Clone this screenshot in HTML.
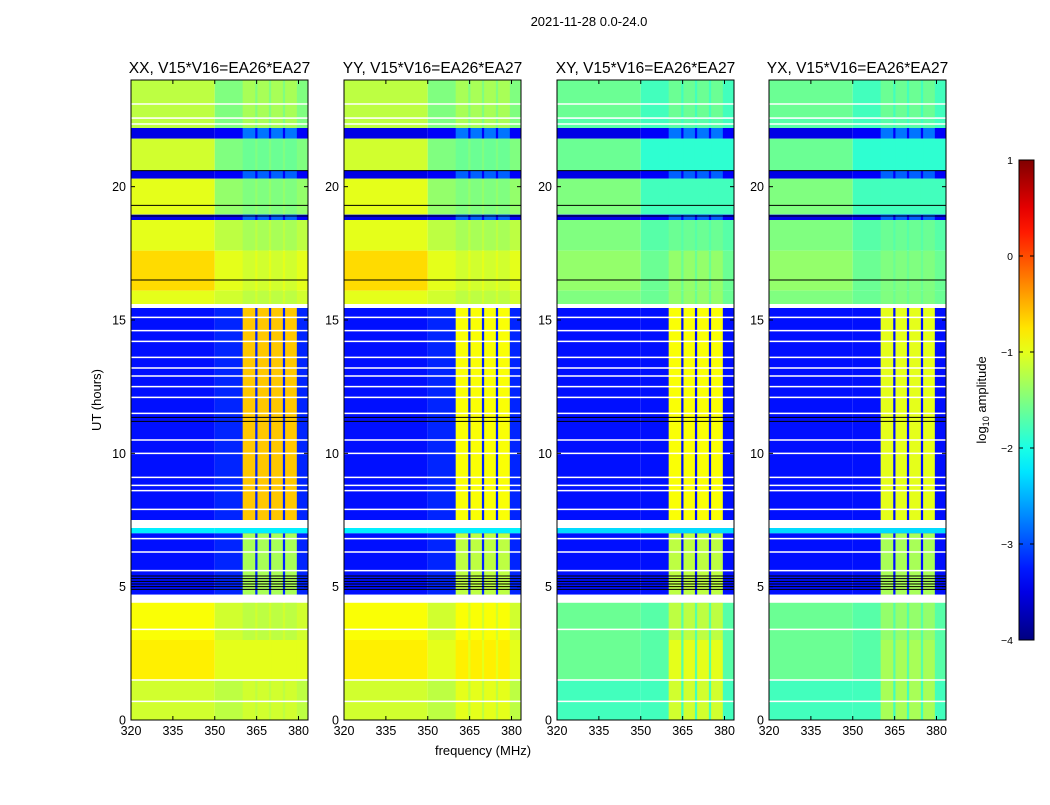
<!DOCTYPE html>
<html><head><meta charset="utf-8">
<style>
body{margin:0;background:#fff;font-family:"Liberation Sans","DejaVu Sans",sans-serif;}
svg text{font-family:"Liberation Sans","DejaVu Sans",sans-serif;}
</style></head>
<body>
<svg id="fig" width="1050" height="800" viewBox="0 0 1050 800" xmlns="http://www.w3.org/2000/svg">
<rect width="1050" height="800" fill="#fff"/>
<text x="589" y="26" font-size="13" text-anchor="middle">2021-11-28 0.0-24.0</text>
<text transform="translate(101,400) rotate(-90)" font-size="13" text-anchor="middle">UT (hours)</text>
<text x="483" y="755" font-size="13" text-anchor="middle">frequency (MHz)</text>
<g id="panels"></g>
<g id="cbar"></g>
</svg>
<script>
// ---- data ----
const panelTitles = ["XX, V15*V16=EA26*EA27","YY, V15*V16=EA26*EA27","XY, V15*V16=EA26*EA27","YX, V15*V16=EA26*EA27"];
const rowStart = [22.6,22.2,21.8,20.6,20.3,18.95,18.75,17.6,16.1,15.6,7.5,7.0,4.7,3.0,1.5,0];
const rowEnd   = [24,22.6,22.2,21.8,20.6,20.3,18.95,18.75,17.6,16.1,15.45,7.2,7.0,4.4,3.0,1.5];
const bgParLo  = [-1.2,-1.2,-3.5,-1.1,-3.5,-1.0,-3.5,-1.0,-0.7,-1.0,-3.3,-2.2,-3.3,-0.9,-0.8,-1.1];
const bgParHi  = [-1.5,-1.5,-3.4,-1.5,-3.4,-1.4,-3.4,-1.2,-1.0,-1.1,-3.2,-2.2,-3.2,-1.1,-1.0,-1.2];
const bgCrLo   = [-1.6,-1.7,-3.5,-1.6,-3.5,-1.5,-3.5,-1.5,-1.4,-1.5,-3.3,-2.3,-3.3,-1.6,-1.6,-1.8];
const bgCrHi   = [-1.8,-1.8,-3.4,-1.9,-3.4,-1.8,-3.4,-1.7,-1.6,-1.6,-3.3,-2.3,-3.3,-1.7,-1.7,-1.8];
const rfiXX    = [-1.3,-1.3,-2.8,-1.6,-2.9,-1.5,-2.9,-1.3,-1.1,-1.2,-0.6,-2.2,-1.3,-1.2,-1.0,-1.1];
const rfiYY    = [-1.3,-1.3,-2.8,-1.6,-2.9,-1.5,-2.9,-1.3,-1.1,-1.2,-0.9,-2.2,-1.2,-0.9,-0.8,-1.0];
const rfiXY    = [-1.6,-1.7,-2.8,-1.9,-2.9,-1.8,-2.9,-1.6,-1.4,-1.4,-0.9,-2.3,-1.2,-1.2,-1.0,-1.1];
const rfiYX    = [-1.6,-1.7,-2.8,-1.9,-2.9,-1.8,-2.9,-1.6,-1.5,-1.5,-1.0,-2.3,-1.3,-1.4,-1.3,-1.3];
const whiteLines = [23.1,22.57,22.35,15.1,14.6,14.2,13.6,13.2,12.9,12.5,12.1,11.5,10.5,10.0,9.1,8.8,8.6,7.9,6.8,6.3,5.6,3.4,1.5,0.7];
const blackLines = [20.6,19.3,18.9,16.5,11.35,11.2,5.4,5.3,5.2,5.1,5.0,4.9];
const gapStart = [15.45,7.2,4.4];
const gapEnd   = [15.6,7.5,4.7];
const rfiBands = [[360,364.5],[365.3,369.4],[370.2,374.4],[375.2,379.4]];
const xTicks = [320,335,350,365,380];
const yTicks = [0,5,10,15,20];
const cbTicks = [1,0,-1,-2,-3,-4];

// ---- geometry ----
const panelX = [131,344,557,769], panelW = 177, pTop = 80, pBot = 720;
const fMin = 320, fMax = 383.4, hMin = 0, hMax = 24;
const NS = "http://www.w3.org/2000/svg";
function mk(tag, attrs, parent){const e=document.createElementNS(NS,tag);for(const k in attrs)e.setAttribute(k,attrs[k]);parent.appendChild(e);return e;}
function jet(v){
  let t=(v+4)/5; t=Math.max(0,Math.min(1,t));
  const f=x=>Math.max(0,Math.min(1,x));
  const r=f(1.5-Math.abs(4*t-3)), g=f(1.5-Math.abs(4*t-2)), b=f(1.5-Math.abs(4*t-1));
  return `rgb(${Math.round(r*255)},${Math.round(g*255)},${Math.round(b*255)})`;
}
const panelsG = document.getElementById('panels');
const rfiSets = [rfiXX,rfiYY,rfiXY,rfiYX];
panelX.forEach((px,pi)=>{
  const xs=f=>px+(f-fMin)/(fMax-fMin)*panelW;
  const ys=h=>pBot-(h-hMin)/(hMax-hMin)*(pBot-pTop);
  const g=mk('g',{},panelsG);
  
  
  const cross = pi>=2;
  const lo = cross?bgCrLo:bgParLo, hi = cross?bgCrHi:bgParHi, rfi=rfiSets[pi];
  for(let i=0;i<rowStart.length;i++){
    const y1=ys(rowEnd[i]), y2=ys(rowStart[i]);
    const c1=mk('rect',{x:xs(320),y:y1,width:xs(350)-xs(320),height:y2-y1,fill:jet(lo[i])},g);
    
    
    const c2=mk('rect',{x:xs(350),y:y1,width:xs(fMax)-xs(350),height:y2-y1,fill:jet(hi[i])},g);
    
    
    rfiBands.forEach(b=>{
      const c3=mk('rect',{x:xs(b[0]),y:y1,width:xs(b[1])-xs(b[0]),height:y2-y1,fill:jet(rfi[i])},g);
      
      
    });
  }
  for(let i=0;i<gapStart.length;i++){
    const r=mk('rect',{x:px,y:ys(gapEnd[i]),width:panelW,height:ys(gapStart[i])-ys(gapEnd[i]),fill:'#fff'},g);
    
    
  }
  whiteLines.forEach(h=>{
    const l=mk('line',{x1:px,x2:px+panelW,y1:ys(h),y2:ys(h),stroke:'#fff','stroke-width':1.5},g);
    
    
  });
  blackLines.forEach(h=>{
    const l=mk('line',{x1:px,x2:px+panelW,y1:ys(h),y2:ys(h),stroke:'#000','stroke-width':1},g);
    
    
  });
  const fr=mk('rect',{x:px,y:pTop,width:panelW,height:pBot-pTop,fill:'none',stroke:'#000','stroke-width':1},g);
  
  
  const t=mk('text',{x:px+panelW/2,y:73,'font-size':15.5,'text-anchor':'middle'},g);
  t.textContent=panelTitles[pi];
  
  
  xTicks.forEach(v=>{
    const x=xs(v);
    mk('line',{x1:x,x2:x,y1:pBot,y2:pBot-4,stroke:'#000'},g);
    mk('line',{x1:x,x2:x,y1:pTop,y2:pTop+4,stroke:'#000'},g);
    const tl=mk('text',{x:x,y:pBot+15,'font-size':12.5,'text-anchor':'middle'},g);
    tl.textContent=v;
    
    
  });
  yTicks.forEach(v=>{
    const y=ys(v);
    mk('line',{x1:px,x2:px+4,y1:y,y2:y,stroke:'#000'},g);
    mk('line',{x1:px+panelW,x2:px+panelW-4,y1:y,y2:y,stroke:'#000'},g);
    const tl=mk('text',{x:px-5,y:y+4.5,'font-size':12.5,'text-anchor':'end'},g);
    tl.textContent=v;
    
    
  });
});
// colorbar
const cb=document.getElementById('cbar');


const cbX=1019,cbW=15,cbT=160,cbB=640;
const defs=mk('defs',{},cb);
const grad=mk('linearGradient',{id:'jetg',x1:0,y1:1,x2:0,y2:0},defs);
for(let i=0;i<=20;i++){mk('stop',{offset:i/20,'stop-color':jet(-4+5*i/20)},grad);}
mk('rect',{x:cbX,y:cbT,width:cbW,height:cbB-cbT,fill:'url(#jetg)',stroke:'#000','stroke-width':1},cb);
cbTicks.forEach(v=>{
  const y=cbB-(v+4)/5*(cbB-cbT);
  mk('line',{x1:cbX,x2:cbX+4,y1:y,y2:y,stroke:'#000'},cb);
  mk('line',{x1:cbX+cbW,x2:cbX+cbW-4,y1:y,y2:y,stroke:'#000'},cb);
  const tl=mk('text',{x:1013,y:y+4,'font-size':10.5,'text-anchor':'end'},cb);
  tl.textContent=v<0?'\u2212'+(-v):String(v);
  
  
});
const lab=mk('text',{transform:'translate(986,400) rotate(-90)','font-size':13,'text-anchor':'middle'},cb);
lab.innerHTML='log<tspan font-size="9" dy="3">10</tspan><tspan dy="-3"> amplitude</tspan>';


</script>
</body></html>
